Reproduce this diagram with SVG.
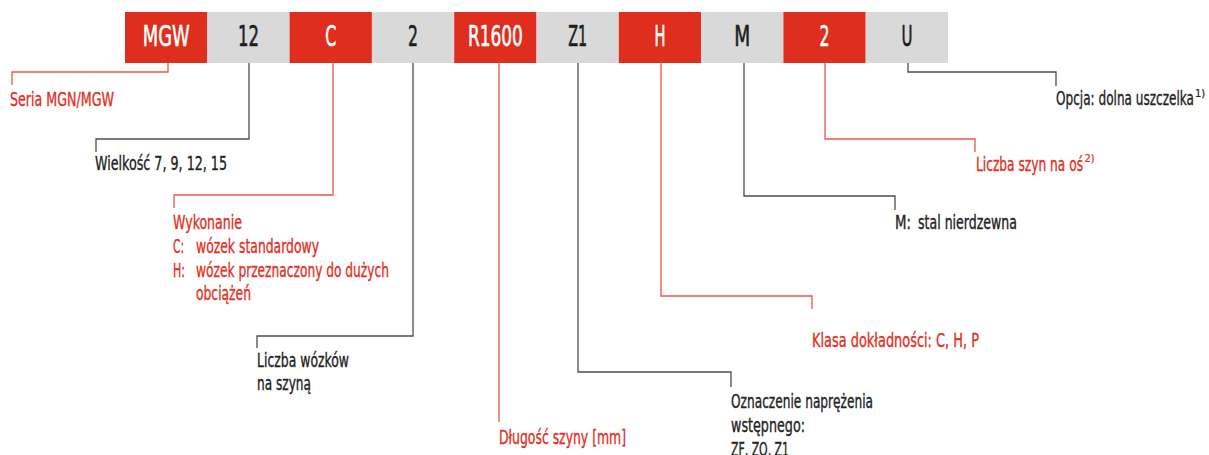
<svg xmlns="http://www.w3.org/2000/svg" width="1209" height="455" viewBox="0 0 1209 455">
<style>
text{font-family:"Liberation Sans Narrow","DejaVu Sans Condensed","Liberation Sans",sans-serif;font-stretch:condensed}
.red{fill:#DF2D1E}
.gray{fill:#D9D9D9}
.bw{fill:#FFFFFF;stroke:#FFFFFF;stroke-width:0.6;font-size:29px;text-anchor:middle}
.bd{fill:#1E1E1E;stroke:#1E1E1E;stroke-width:0.6;font-size:29px;text-anchor:middle}
.lr{fill:#E1301F;stroke:#E1301F;stroke-width:0.35;font-size:19px}
.ld{fill:#222222;stroke:#222222;stroke-width:0.35;font-size:19px}
.sup{font-size:11px;stroke-width:0.2}
.cr{fill:none;stroke:#E8564B;stroke-width:1.3}
.cg{fill:none;stroke:#4D4D4D;stroke-width:1.3}
</style>
<g id="connectors">
<path class="cr" d="M168,63V72H12V85"/>
<path class="cg" d="M249,63V139H96V152"/>
<path class="cr" d="M333,63V195H174V208"/>
<path class="cg" d="M413,63V336H257V348"/>
<path class="cr" d="M499,63V422"/>
<path class="cg" d="M578,63V372H731V387"/>
<path class="cr" d="M661,63V296H812V309"/>
<path class="cg" d="M744,63V196H895V210"/>
<path class="cr" d="M825,63V139H975V152"/>
<path class="cg" d="M908,63V72H1056V86"/>
</g>
<g id="box-mgw"><rect class="red" x="125" y="12" width="82.3" height="51"/><text class="bw" x="166.2" y="45.5" textLength="47" lengthAdjust="spacingAndGlyphs">MGW</text></g>
<g id="box-12"><rect class="gray" x="207.3" y="12" width="82.3" height="51"/><text class="bd" x="248.5" y="45.5" textLength="21" lengthAdjust="spacingAndGlyphs">12</text></g>
<g id="box-c"><rect class="red" x="289.6" y="12" width="82.3" height="51"/><text class="bw" x="330.8" y="45.5" textLength="11" lengthAdjust="spacingAndGlyphs">C</text></g>
<g id="box-2a"><rect class="gray" x="371.9" y="12" width="82.3" height="51"/><text class="bd" x="413.1" y="45.5" textLength="10" lengthAdjust="spacingAndGlyphs">2</text></g>
<g id="box-r1600"><rect class="red" x="454.2" y="12" width="82.3" height="51"/><text class="bw" x="495.4" y="45.5" textLength="55" lengthAdjust="spacingAndGlyphs">R1600</text></g>
<g id="box-z1"><rect class="gray" x="536.5" y="12" width="82.3" height="51"/><text class="bd" x="577.7" y="45.5" textLength="19" lengthAdjust="spacingAndGlyphs">Z1</text></g>
<g id="box-h"><rect class="red" x="618.8" y="12" width="82.3" height="51"/><text class="bw" x="660" y="45.5" textLength="11" lengthAdjust="spacingAndGlyphs">H</text></g>
<g id="box-m"><rect class="gray" x="701.1" y="12" width="82.3" height="51"/><text class="bd" x="742.3" y="45.5" textLength="16" lengthAdjust="spacingAndGlyphs">M</text></g>
<g id="box-2b"><rect class="red" x="783.4" y="12" width="82.3" height="51"/><text class="bw" x="824.6" y="45.5" textLength="10" lengthAdjust="spacingAndGlyphs">2</text></g>
<g id="box-u"><rect class="gray" x="865.7" y="12" width="82.3" height="51"/><text class="bd" x="906.9" y="45.5" textLength="11" lengthAdjust="spacingAndGlyphs">U</text></g>
<g id="label-seria"><text class="lr" x="10" y="106" textLength="104" lengthAdjust="spacingAndGlyphs">Seria MGN/MGW</text></g>
<g id="label-wielkosc"><text class="ld" x="95" y="170" textLength="132" lengthAdjust="spacingAndGlyphs">Wielkość 7, 9, 12, 15</text></g>
<g id="label-wykonanie">
<text class="lr" x="173" y="229" textLength="69" lengthAdjust="spacingAndGlyphs">Wykonanie</text>
<text class="lr" x="173" y="253" textLength="11" lengthAdjust="spacingAndGlyphs">C:</text>
<text class="lr" x="196" y="253" textLength="123" lengthAdjust="spacingAndGlyphs">wózek standardowy</text>
<text class="lr" x="173" y="277" textLength="12" lengthAdjust="spacingAndGlyphs">H:</text>
<text class="lr" x="196" y="277" textLength="193" lengthAdjust="spacingAndGlyphs">wózek przeznaczony do dużych</text>
<text class="lr" x="196" y="300" textLength="55" lengthAdjust="spacingAndGlyphs">obciążeń</text>
</g>
<g id="label-liczba-wozkow">
<text class="ld" x="257" y="367" textLength="92" lengthAdjust="spacingAndGlyphs">Liczba wózków</text>
<text class="ld" x="257" y="390" textLength="54" lengthAdjust="spacingAndGlyphs">na szyną</text>
</g>
<g id="label-dlugosc"><text class="lr" x="499" y="444" textLength="127" lengthAdjust="spacingAndGlyphs">Długość szyny [mm]</text></g>
<g id="label-oznaczenie">
<text class="ld" x="731" y="408" textLength="142" lengthAdjust="spacingAndGlyphs">Oznaczenie naprężenia</text>
<text class="ld" x="731" y="431.5" textLength="74" lengthAdjust="spacingAndGlyphs">wstępnego:</text>
<text class="ld" x="731" y="456" textLength="58" lengthAdjust="spacingAndGlyphs">ZF, ZO, Z1</text>
</g>
<g id="label-klasa"><text class="lr" x="812" y="347" textLength="167" lengthAdjust="spacingAndGlyphs">Klasa dokładności: C, H, P</text></g>
<g id="label-m">
<text class="ld" x="895" y="229" textLength="16" lengthAdjust="spacingAndGlyphs">M:</text>
<text class="ld" x="918" y="229" textLength="99" lengthAdjust="spacingAndGlyphs">stal nierdzewna</text>
</g>
<g id="label-liczba-szyn">
<text class="lr" x="976" y="171" textLength="107" lengthAdjust="spacingAndGlyphs">Liczba szyn na oś</text>
<text class="lr sup" x="1084.5" y="162">2)</text>
</g>
<g id="label-opcja">
<text class="ld" x="1056" y="105" textLength="138" lengthAdjust="spacingAndGlyphs">Opcja: dolna uszczelka</text>
<text class="ld sup" x="1195" y="97">1)</text>
</g>
</svg>
